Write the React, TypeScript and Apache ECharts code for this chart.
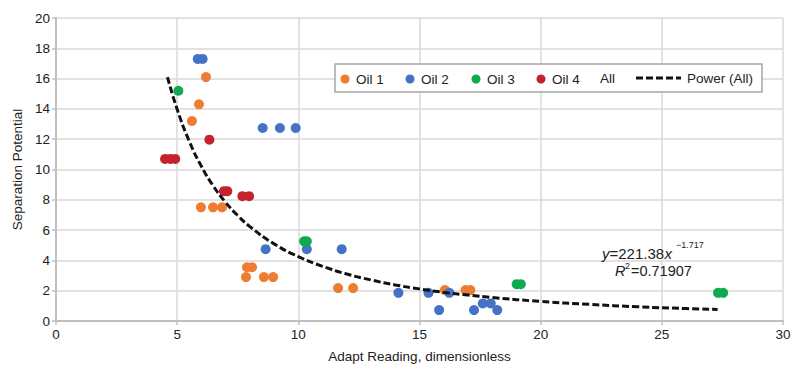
import React, { useEffect, useRef } from "react";
import * as echarts from "echarts";

const oil1: [number, number][] = [
  [6.19, 16.1], [5.9, 14.3], [5.61, 13.2], [5.98, 7.5], [6.48, 7.5], [6.85, 7.5],
  [7.88, 3.55], [8.09, 3.55], [7.84, 2.9], [8.58, 2.9], [8.96, 2.9],
  [11.64, 2.17], [12.26, 2.17], [16.05, 2.04], [16.9, 2.04], [17.1, 2.04],
];
const oil2: [number, number][] = [
  [5.85, 17.3], [6.05, 17.3], [8.53, 12.74], [9.24, 12.74], [9.89, 12.74],
  [8.65, 4.74], [10.35, 4.74], [11.79, 4.74], [14.13, 1.86], [15.37, 1.86],
  [16.23, 1.86], [15.81, 0.72], [17.25, 0.72], [17.61, 1.16], [17.94, 1.16], [18.21, 0.72],
];
const oil3: [number, number][] = [
  [5.05, 15.2], [10.24, 5.26], [10.35, 5.26], [19.01, 2.43], [19.18, 2.43],
  [27.32, 1.86], [27.53, 1.86],
];
const oil4: [number, number][] = [
  [4.5, 10.7], [4.72, 10.7], [4.92, 10.7], [6.33, 11.97], [6.93, 8.57], [7.07, 8.57],
  [7.69, 8.24], [7.97, 8.24],
];
// Power (All) trend line
const powerAll: [number, number][] = [
  [4.6, 16.1], [5, 13.97], [5.5, 11.86], [6, 10.21], [6.5, 8.89], [7, 7.83],
  [7.5, 6.96], [8, 6.23], [9, 5.09], [10, 4.25], [11, 3.61], [12, 3.1],
  [13, 2.71], [14, 2.38], [15, 2.12], [16, 1.89], [17, 1.71], [18, 1.55],
  [20, 1.29], [22, 1.1], [24, 0.94], [26, 0.82], [27.3, 0.76],
];
const xTicks = { min: 0, max: 30, interval: 5 };
const yTicks = { min: 0, max: 20, interval: 2 };

const COLORS = { oil1: "#ED7D31", oil2: "#4472C4", oil3: "#0DAA4E", oil4: "#C52230" };
const FONT = "Liberation Sans, Arial, Helvetica, sans-serif";
const TXT = "#222";

export default function App() {
  const ref = useRef<HTMLDivElement>(null);
  useEffect(() => {
    document.body.style.margin = "0";
    if (!ref.current) return;
    const chart = echarts.init(ref.current, undefined, { renderer: "svg" });
    const scatter = (name: string, data: [number, number][], color: string) => ({
      name,
      type: "scatter",
      data,
      symbol: "circle",
      symbolSize: 10,
      itemStyle: { color, opacity: 1 },
      z: 3,
    });
    const legendItems = [
      { name: "Oil 1", color: COLORS.oil1, dot: 345, text: 356 },
      { name: "Oil 2", color: COLORS.oil2, dot: 410, text: 421 },
      { name: "Oil 3", color: COLORS.oil3, dot: 476, text: 487 },
      { name: "Oil 4", color: COLORS.oil4, dot: 541, text: 552 },
    ];
    const graphics: any[] = [
      {
        type: "rect",
        shape: { x: 335, y: 64, width: 427, height: 28 },
        style: { fill: "#fff", stroke: "#a6a6a6", lineWidth: 1.5 },
        z: 10,
      },
    ];
    legendItems.forEach((it) => {
      graphics.push({
        type: "circle",
        shape: { cx: it.dot, cy: 79, r: 4.5 },
        style: { fill: it.color },
        z: 11,
      });
      graphics.push({
        type: "text",
        x: it.text,
        y: 79,
        style: { text: it.name, fill: TXT, font: `13.5px ${FONT}`, verticalAlign: "middle" },
        z: 11,
      });
    });
    graphics.push({
      type: "text",
      x: 600,
      y: 78,
      style: { text: "All", fill: TXT, font: `13.5px ${FONT}`, verticalAlign: "middle" },
      z: 11,
    });
    graphics.push({
      type: "line",
      shape: { x1: 636, y1: 78, x2: 681, y2: 78 },
      style: { stroke: "#111", lineWidth: 3, lineDash: [7, 3] },
      z: 11,
    });
    graphics.push({
      type: "text",
      x: 687,
      y: 78,
      style: { text: "Power (All)", fill: TXT, font: `13.5px ${FONT}`, verticalAlign: "middle" },
      z: 11,
    });
    // equation
    const t = (x: number, y: number, text: string, size: number, italic = false) => ({
      type: "text",
      x,
      y,
      style: {
        text,
        fill: TXT,
        font: `${italic ? "italic " : ""}${size}px ${FONT}`,
        verticalAlign: "middle",
      },
      z: 11,
    });
    graphics.push(t(602, 253, "y", 15, true));
    graphics.push(t(609.5, 253, "=221.38", 15));
    graphics.push(t(664.5, 253, "x", 15, true));
    graphics.push(t(676, 245, "\u22121.717", 9));
    graphics.push(t(615, 271, "R", 14.5, true));
    graphics.push(t(625, 265.5, "2", 9));
    graphics.push(t(631, 271, "=0.71907", 14.5));

    chart.setOption({
      animation: false,
      backgroundColor: "#fff",
      grid: { left: 56, right: 17, top: 18, bottom: 52 },
      xAxis: {
        type: "value",
        ...xTicks,
        name: "Adapt Reading, dimensionless",
        nameLocation: "middle",
        nameGap: 28,
        nameTextStyle: { fontFamily: FONT, fontSize: 13.5, color: TXT },
        axisLine: { show: true, lineStyle: { color: "#bfbfbf", width: 2 } },
        axisTick: { show: true, length: 4, lineStyle: { color: "#bfbfbf", width: 1.5 } },
        axisLabel: { fontFamily: FONT, fontSize: 13.5, color: TXT, margin: 6 },
        splitLine: { show: true, lineStyle: { color: "#d9d9d9", width: 1.5 } },
      },
      yAxis: {
        type: "value",
        ...yTicks,
        name: "Separation Potential",
        nameLocation: "middle",
        nameGap: 31,
        nameRotate: 90,
        nameTextStyle: { fontFamily: FONT, fontSize: 13.5, color: TXT },
        axisLine: { show: true, lineStyle: { color: "#bfbfbf", width: 2 } },
        axisTick: { show: true, length: 4, lineStyle: { color: "#bfbfbf", width: 1.5 } },
        axisLabel: { fontFamily: FONT, fontSize: 13.5, color: TXT, margin: 6 },
        splitLine: { show: true, lineStyle: { color: "#d9d9d9", width: 1.5 } },
      },
      series: [
        {
          name: "Power (All)",
          type: "line",
          data: powerAll,
          smooth: true,
          symbol: "none",
          lineStyle: { color: "#111", width: 3, type: [7, 3] },
          z: 4,
        },
        scatter("Oil 1", oil1, COLORS.oil1),
        scatter("Oil 2", oil2, COLORS.oil2),
        scatter("Oil 3", oil3, COLORS.oil3),
        scatter("Oil 4", oil4, COLORS.oil4),
      ],
      graphic: graphics,
    });
    return () => chart.dispose();
  }, []);
  return <div ref={ref} style={{ width: 800, height: 373 }} />;
}
